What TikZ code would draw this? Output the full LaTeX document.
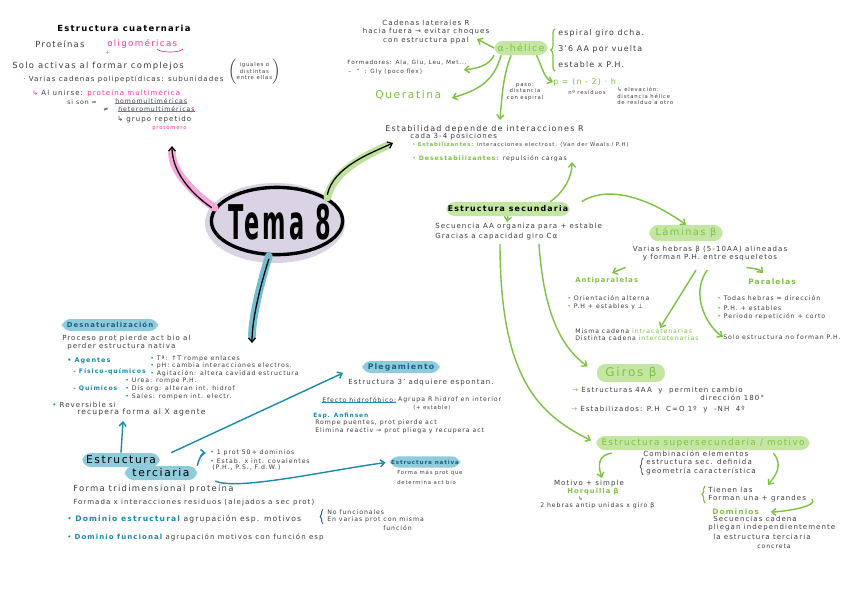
\documentclass[tikz,border=0pt]{standalone}
\usepackage{fontspec}
\setmainfont{DejaVu Sans}[LetterSpace=15]
\usetikzlibrary{arrows.meta,positioning,shapes.geometric,decorations.pathreplacing}
\definecolor{ink}{HTML}{3D3D3D}
\definecolor{grass}{HTML}{7DC243}
\definecolor{leaf}{HTML}{C4E6A2}
\definecolor{sea}{HTML}{1A8AAE}
\definecolor{navy}{HTML}{1D5F82}
\definecolor{skyfill}{HTML}{8ECCDC}
\definecolor{hot}{HTML}{FF2EA6}
\definecolor{pinkband}{HTML}{F9A6DA}
\definecolor{greenband}{HTML}{BDE09A}
\definecolor{blueband}{HTML}{72BDD2}
\definecolor{lavender}{HTML}{D9D3E4}

\begin{document}
\begin{tikzpicture}[x=0.025cm,y=-0.025cm,>={Straight Barb[length=3pt,width=5pt]}]
  \tikzstyle{txt}=[anchor=west,inner sep=0pt,text=ink,align=left,font=\fontsize{5}{6}\selectfont]
  \tikzstyle{txtl}=[txt,font=\fontsize{6}{7}\selectfont]
  \tikzstyle{txts}=[txt,font=\fontsize{4.4}{5.4}\selectfont]
  \tikzstyle{txtt}=[txt,font=\fontsize{3.8}{4.6}\selectfont]
  \tikzstyle{gpill}=[fill=leaf,rounded corners=6pt,inner sep=0pt,text=grass]
  \tikzstyle{bpill}=[fill=skyfill,rounded corners=6pt,inner sep=0pt,text=navy]
  \tikzstyle{garrow}=[->,draw=grass,line width=1pt]
  \tikzstyle{barrow}=[->,draw=sea,line width=1pt]
  \tikzstyle{band}=[line width=5.5pt,line cap=round]
  \fill[white] (0,0) rectangle (848,599);
  \useasboundingbox (0,0) rectangle (848,599);

  % centro
  \node[ellipse,fill=lavender,minimum width=3.5cm,minimum height=2cm] (temabg) at (275,223) {};
  \node[ellipse,draw=black,line width=2.4pt,minimum width=3.28cm,minimum height=1.68cm] (tema) at (277,221) {};
  \node[font=\fontsize{34}{34}\selectfont\bfseries,inner sep=0pt] (tematxt) at (280,222) {\scalebox{0.47}[1]{Tema 8}};

  % estructura cuaternaria
  \node[txtl,text=black,font=\fontsize{6}{7}\selectfont\bfseries] (quat) at (57,28) {Estructura cuaternaria};
  \node[txtl] (prot) at (35,44) {Proteínas};
  \node[txtl,text=hot,font=\fontsize{6.2}{7}\selectfont] (olig) at (107,44) {oligoméricas};
  \node[txtt,text=hot] (plus) at (105,53) {+};
  \draw[hot,line width=0.5pt] (157,49) .. controls (160,53) and (180,53) .. (183,49);
  \node[txtl] (solo) at (12,66) {Solo activas al formar complejos};
  \node[txt] (varias) at (23,79) {\textcolor{hot}{·} Varias cadenas polipeptídicas: subunidades};
  \node[txtt,align=center] (paren) at (228,72) {$\left(\vcenter{\hbox{\begin{tabular}{@{}c@{}}iguales o\\distintas\\entre ellas\end{tabular}}}\right)$};
  \node[txt] (unir) at (32,93) {\textcolor{hot}{↳} Al unirse: \textcolor{hot}{proteína multimérica}};
  \node[txts] (sison) at (67,102) {si son =};
  \node[txts] (homow) at (115,101) {homomultiméricas};
  \node[txts] (dist) at (103,110) {≠};
  \node[txts] (heterow) at (118,109) {heteromultiméricas};
  \draw[hot,line width=0.5pt] (homow.south west) -- (homow.south east);
  \draw[hot,line width=0.5pt] (heterow.south west) -- (heterow.south east);
  \node[txt] (grupo) at (117,120) {↳ grupo repetido};
  \node[txtt,text=hot] (protom) at (152,128) {protómero};
  \coordinate (quattip) at (172,146);

  % alfa helice
  \node[txt,anchor=center,align=center] (cadenas) at (426,32) {Cadenas laterales R\\hacia fuera → evitar choques\\con estructura ppal};
  \node[gpill,minimum width=1.33cm,minimum height=0.35cm,font=\fontsize{6.6}{8}\selectfont] (alfa) at (521,48) {α-hélice};
  \draw[grass,line width=0.9pt,decorate,decoration={brace,amplitude=3pt}] (555,71) -- (555,29);
  \node[txtl,font=\fontsize{5.6}{7}\selectfont] (espiral) at (558,33) {espiral giro dcha.};
  \node[txtl,font=\fontsize{5.6}{7}\selectfont] (vuelta) at (558,49) {3'6 AA por vuelta};
  \node[txtl,font=\fontsize{5.6}{7}\selectfont] (estable) at (558,65) {estable x P.H.};
  \node[txts,font=\fontsize{4.1}{5}\selectfont] (formad) at (347,63) {Formadores: Ala, Glu, Leu, Met...};
  \node[txts,font=\fontsize{4.1}{5}\selectfont] (noform) at (348,72) {–\ \ ”\ \ : Gly (poco flex)};
  \node[txt,text=grass,font=\fontsize{7.6}{9}\selectfont] (querat) at (375,95) {Queratina};
  \node[txtt,anchor=center,align=center] (paso) at (525,92) {paso:\\distancia\\con espiral};
  \node[txt,text=grass,font=\fontsize{5.6}{7}\selectfont] (pform) at (553,82) {p = (n - 2) · h};
  \node[txtt] (nres) at (568,93) {nº residuos};
  \node[txtt] (elev) at (617,96) {↳ elevación:\\distancia hélice\\de residuo a otro};
  \coordinate (cadtip) at (477,39);
  \coordinate (formtip) at (464,70);
  \coordinate (quertip) at (452,98);
  \coordinate (estabtip) at (500,120);
  \draw[garrow] (alfa.west) -- (cadtip);
  \draw[garrow] (alfa.south west) .. controls +(-5,10) and +(15,-2) .. (formtip);
  \draw[garrow] ([xshift=5pt]alfa.south west) .. controls +(-8,28) and +(25,-8) .. (quertip);
  \draw[garrow] ([xshift=-7pt]alfa.south) .. controls +(-8,20) and +(2,-25) .. (estabtip);
  \draw[garrow] ([xshift=-8pt]alfa.south east) .. controls +(6,14) and +(-8,-3) .. (pform.west);

  % estabilidad
  \node[txtl,font=\fontsize{5.7}{7}\selectfont] (estab) at (385,129) {Estabilidad depende de interacciones R};
  \node[txt] (cada) at (410,137) {cada 3-4 posiciones};
  \node[txtt] (estz) at (412,145) {\textcolor{grass}{• \bfseries Estabilizantes:} interacciones electrost. (Van der Waals / P.H)};
  \node[txts] (desz) at (412,159) {\textcolor{grass}{• \bfseries Desestabilizantes:} repulsión cargas};
  \coordinate (stip) at (393,143);

  % estructura secundaria
  \node[gpill,text=black,minimum width=3.08cm,minimum height=0.35cm,font=\fontsize{5.6}{7}\selectfont\bfseries] (secund) at (508,209) {Estructura secundaria};
  \node[txt] (secu) at (435,227) {Secuencia AA organiza para + estable};
  \node[txt] (gracias) at (435,237) {Gracias a capacidad giro Cα};
  \coordinate (secup) at (572,162);
  \coordinate (secdown) at (507,222);
  \draw[garrow] ([xshift=-14pt]secund.north east) .. controls +(14,-10) and +(0,15) .. (secup);
  \draw[garrow] (secund.south) -- (secdown);

  % laminas beta
  \node[gpill,minimum width=1.83cm,minimum height=0.4cm,font=\fontsize{7}{8}\selectfont] (laminas) at (686,233) {Láminas β};
  \node[txt,anchor=center] (hebras) at (710,250) {Varias hebras β (5-10AA) alineadas};
  \node[txt,anchor=center] (forman) at (710,258) {y forman P.H. entre esqueletos};
  \node[txt,text=grass,font=\fontsize{4.8}{6}\selectfont\bfseries] (antip) at (575,281) {Antiparalelas};
  \node[txts] (orient) at (567,298) {\textcolor{grass}{•} Orientación alterna};
  \node[txts] (phest) at (567,307) {\textcolor{grass}{•} P.H + estables y ⊥};
  \node[txts] (misma) at (575,331) {Misma cadena \textcolor{grass}{intracatenarias}};
  \node[txts] (distinta) at (575,338) {Distinta cadena \textcolor{grass}{intercatenarias}};
  \node[txt,text=grass,font=\fontsize{5.3}{6}\selectfont\bfseries] (paral) at (748,282) {Paralelas};
  \node[txts] (todas) at (717,298) {\textcolor{grass}{•} Todas hebras = dirección};
  \node[txts] (phmas) at (717,308) {\textcolor{grass}{•} P.H. + estables};
  \node[txts] (periodo) at (717,317) {\textcolor{grass}{•} Periodo repetición + corto};
  \node[txts] (soloest) at (723,337) {Solo estructura no forman P.H.};
  \coordinate (antitip) at (612,273);
  \coordinate (paratip) at (763,273);
  \coordinate (mismatip) at (660,328);
  \draw[garrow,shorten <=10pt] (secund.east) .. controls +(40,-25) and +(-35,-25) .. (laminas.north);
  \draw[garrow] ([xshift=-60pt,yshift=-4pt]forman.south) -- (antitip);
  \draw[garrow] ([xshift=26pt,yshift=-4pt]forman.south) .. controls +(8,2) and +(-5,-5) .. (paratip);
  \draw[garrow] ([xshift=-10pt,yshift=-6pt]forman.south) -- (mismatip);
  \draw[garrow] ([xshift=-2pt,yshift=-6pt]forman.south) .. controls +(-18,25) and +(-15,-10) .. (soloest.west);

  % giros beta
  \node[gpill,minimum width=1.7cm,minimum height=0.45cm,font=\fontsize{8.5}{10}\selectfont] (giros) at (631,373) {Giros β};
  \node[txt] (estruc4) at (572,391) {\textcolor{grass}{→} Estructuras 4AA \ y \ permiten cambio};
  \node[txt] (dir180) at (700,398) {dirección 180°};
  \node[txt] (estabz) at (571,410) {\textcolor{grass}{→} Estabilizados: P.H \ C=O 1º \ y \ -NH \ 4º};
  \coordinate (giro0) at (539,244);
  \draw[garrow,shorten >=8pt] (giro0) .. controls (544,320) and (565,350) .. (giros.west);

  % supersecundaria
  \node[gpill,minimum width=5.33cm,minimum height=0.35cm,font=\fontsize{6.3}{7}\selectfont] (super) at (703,443) {Estructura supersecundaria / motivo};
  \node[txt] (combi) at (643,454) {Combinación elementos};
  \draw[ink,line width=0.5pt,decorate,decoration={brace,amplitude=2pt}] (643,475) -- (643,458);
  \node[txt] (defin) at (646,462) {estructura sec. definida};
  \node[txt] (geom) at (646,471) {geometría característica};
  \node[txt,anchor=center] (motivo) at (589,484) {Motivo + simple};
  \node[txt,anchor=center,text=grass,font=\fontsize{4.8}{6}\selectfont\bfseries] (horq) at (593,492) {Horquilla β};
  \node[txtt] (flecha) at (578,499) {↳};
  \node[txts] (hebras2) at (540,506) {2 hebras antip unidas x giro β};
  \draw[grass,line width=0.8pt,decorate,decoration={brace,amplitude=2pt}] (705,503) -- (705,486);
  \node[txt] (tienen) at (708,490) {Tienen las};
  \node[txt] (formanmas) at (708,499) {Forman una + grandes};
  \node[txt,text=grass,font=\fontsize{5.3}{6}\selectfont\bfseries] (domin) at (712,512) {Dominios};
  \node[txt] (secuen) at (713,519) {Secuencias cadena};
  \node[txt] (pliegan) at (708,528) {pliegan independientemente};
  \node[txt] (laest) at (713,537) {la estructura terciaria};
  \node[txts] (concreta) at (757,546) {concreta};
  \coordinate (sup0) at (500,244);
  \coordinate (motip) at (602,478);
  \coordinate (tientip) at (768,485);
  \draw[garrow,shorten >=4pt] (sup0) .. controls (500,380) and (540,415) .. (super.west);
  \draw[garrow] ([xshift=-65pt,yshift=-2pt]super.south) .. controls +(-14,2) and +(-4,-12) .. (motip);
  \draw[garrow] ([xshift=50pt,yshift=-2pt]super.south) .. controls +(10,12) and +(8,-10) .. (tientip);
  \draw[garrow,shorten >=8pt] ([xshift=4pt]formanmas.east) .. controls +(8,8) and +(20,0) .. (domin.east);

  % desnaturalizacion
  \node[bpill,minimum width=2.4cm,minimum height=0.3cm,font=\fontsize{4.9}{6}\selectfont\bfseries] (desnat) at (110,325) {Desnaturalización};
  \node[txt] (proceso) at (62,339) {Proceso prot pierde act bio al};
  \node[txt] (perder) at (67,347) {perder estructura nativa};
  \node[txt,text=sea,font=\fontsize{4.6}{6}\selectfont\bfseries] (agentes) at (67,361) {• Agentes};
  \node[txt,text=sea,font=\fontsize{4.4}{6}\selectfont\bfseries] (fisico) at (73,372) {- Físico-químicos};
  \node[txt,text=sea,font=\fontsize{4.4}{6}\selectfont\bfseries] (quim) at (73,388) {- Químicos};
  \node[txts] (temp) at (150,359) {\textcolor{sea}{•} Tª: ↑T rompe enlaces};
  \node[txts] (ph) at (150,366) {\textcolor{sea}{•} pH: cambia interacciones electros.};
  \node[txts] (agit) at (150,374) {\textcolor{sea}{•} Agitación: altera cavidad estructura};
  \node[txts] (urea) at (125,381) {\textcolor{sea}{•} Urea: rompe P.H.};
  \node[txts] (disorg) at (125,389) {\textcolor{sea}{•} Dis org: alteran int. hidrof};
  \node[txts] (sales) at (125,397) {\textcolor{sea}{•} Sales: rompen int. electr.};
  \node[txt] (revers) at (52,405) {\textcolor{sea}{•} Reversible si};
  \node[txtl,font=\fontsize{5.4}{6}\selectfont] (recup) at (77,412) {recupera forma al X agente};
  \coordinate (revtip) at (123,421);
  \coordinate (btip) at (252,343);

  % plegamiento
  \node[bpill,minimum width=1.93cm,minimum height=0.3cm,font=\fontsize{5.5}{6}\selectfont\bfseries] (pleg) at (401,367) {Plegamiento};
  \node[txt] (adq) at (348,383) {Estructura 3' adquiere espontan.};
  \node[txts] (efw) at (322,400) {Efecto hidrofóbico:};
  \node[txts,right=1pt of efw] (agrupa) {Agrupa R hidrof en interior};
  \node[txtt] (estmas) at (413,408) {(+ estable)};
  \draw[sea,line width=0.5pt] (efw.south west) -- (efw.south east);
  \node[txts,text=sea,font=\fontsize{4.2}{5}\selectfont\bfseries] (anfin) at (313,416) {Esp. Anfinsen};
  \node[txts] (rompe) at (315,423) {Rompe puentes, prot pierde act};
  \node[txts] (elim) at (315,431) {Elimina reactiv → prot pliega y recupera act};

  % estructura terciaria
  \node[bpill,text=black,minimum width=1.93cm,minimum height=0.35cm,font=\fontsize{7.6}{9}\selectfont] (terc1) at (121,460) {Estructura};
  \node[bpill,text=black,minimum width=1.8cm,minimum height=0.35cm,font=\fontsize{7.6}{9}\selectfont] (terc2) at (161,473) {terciaria};
  \node[txts] (dom50) at (210,453) {\textcolor{sea}{•} 1 prot 50+ dominios};
  \node[txts] (estabx) at (210,461) {\textcolor{sea}{•} Estab. x int. covalentes};
  \node[txts] (phps) at (212,468) {(P.H., P.S., F.d.W.)};
  \node[bpill,minimum width=1.75cm,minimum height=0.28cm,font=\fontsize{4}{5}\selectfont\bfseries] (nativa) at (425,462) {Estructura nativa};
  \node[txtt] (formamas) at (397,473) {Forma más prot que};
  \node[txtt] (determ) at (397,482) {determina act bio};
  \node[txtl] (tridim) at (73,489) {Forma tridimensional proteína};
  \node[txt] (formada) at (73,503) {Formada x interacciones residuos (alejados a sec prot)};
  \node[txtl,font=\fontsize{5.4}{6}\selectfont] (domest) at (67,519) {\textcolor{sea}{• \bfseries Dominio estructural} agrupación esp. motivos};
  \draw[navy,line width=0.6pt,decorate,decoration={brace,amplitude=2pt}] (323,524) -- (323,509);
  \node[txts] (nofunc) at (327,512) {No funcionales};
  \node[txts] (envarias) at (327,520) {En varias prot con misma};
  \node[txts] (func) at (383,528) {función};
  \node[txtl,font=\fontsize{5}{6}\selectfont] (domfun) at (67,537) {\textcolor{sea}{• \bfseries Dominio funcional} agrupación motivos con función esp};
  \coordinate (plegtip) at (343,373);
  \draw[barrow] (terc1.north) -- (revtip);
  \draw[barrow] ([xshift=8pt]terc1.north east) -- (plegtip);
  \draw[barrow,shorten >=3pt] (terc2.north east) .. controls +(2,-8) and +(-8,0) .. (dom50.west);
  \draw[barrow,shorten <=14pt,shorten >=3pt] (terc2.east) .. controls +(40,18) and +(-60,8) .. (nativa.west);

  % ramas del centro
  \draw[band,draw=pinkband,shorten >=5pt] (tema.168) .. controls +(-22,-15) and +(0,25) .. (quattip);
  \draw[->,line width=0.9pt] ([xshift=-2pt]tema.168) .. controls +(-22,-15) and +(0,25) .. (quattip);
  \draw[band,draw=greenband,shorten >=5pt] (tema.25) .. controls +(6,-28) and +(-22,10) .. (stip);
  \draw[->,line width=0.9pt] ([yshift=2pt]tema.25) .. controls +(6,-28) and +(-22,10) .. (stip);
  \draw[band,draw=blueband,shorten >=5pt] (tema.-103) .. controls +(-8,25) and +(0,-25) .. (btip);
  \draw[->,line width=0.9pt] ([yshift=-2pt]tema.-103) .. controls +(-8,25) and +(0,-25) .. (btip);
\end{tikzpicture}
\end{document}
